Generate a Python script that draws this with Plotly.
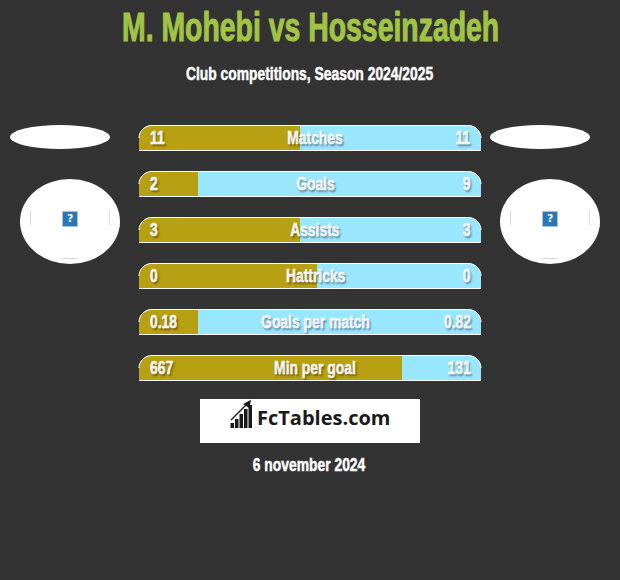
import plotly.graph_objects as go

categories = ["Matches", "Goals", "Assists", "Hattricks", "Goals per match", "Min per goal"]
left_labels = ["11", "2", "3", "0", "0.18", "667"]
right_labels = ["11", "9", "3", "0", "0.82", "131"]
left_share = [47, 17.3, 47, 52, 17.3, 76.8]
right_share = [53, 82.7, 53, 48, 82.7, 23.2]

BG, GOLD, BLUE, GREEN = "#333333", "#b8a013", "#99e6ff", "#a2c446"
SANS = "Liberation Sans, sans-serif"
W, H = 620, 580
L, R, T, B = 139, 481, 115, 391


def px(x):
    return (x - L) / (R - L)


def py(y):
    return (B - y) / (B - T)


def P(x, y):
    return f"{px(x):.5f} {py(y):.5f}"


fig = go.Figure()
fig.add_bar(y=categories, x=left_share, orientation="h", marker=dict(color=GOLD, line_width=0), hoverinfo="skip")
fig.add_bar(y=categories, x=right_share, orientation="h", marker=dict(color=BLUE, line_width=0), hoverinfo="skip")

shapes, notes = [], []


def rect(x0, y0, x1, y1, color, line=None, w=0):
    shapes.append(dict(type="rect", xref="paper", yref="paper", x0=px(x0), x1=px(x1), y0=py(y0), y1=py(y1),
                       fillcolor=color, line=dict(color=line or color, width=w), layer="above"))


def ell(x0, y0, x1, y1):
    shapes.append(dict(type="circle", xref="paper", yref="paper", x0=px(x0), x1=px(x1), y0=py(y0), y1=py(y1),
                       fillcolor="white", line=dict(width=0), layer="above"))


def path(d, fill=None, line=None, w=0):
    s = dict(type="path", xref="paper", yref="paper", path=d, layer="above", line=dict(color=line or "rgba(0,0,0,0)", width=w))
    if fill:
        s["fillcolor"] = fill
    shapes.append(s)


def text(x, y, t, size, color="white", anchor="center", font=SANS, weight="bold", shadow=None):
    f = dict(family=font, size=size, color=color, weight=weight)
    if shadow:
        f["shadow"] = shadow
    notes.append(dict(xref="paper", yref="paper", x=px(x), y=py(y), text=t, showarrow=False, xanchor=anchor,
                      align=anchor, yanchor="middle", font=f))


SHADOW = "2px 2px 2px rgba(0,0,0,0.3)"
r, k = 13, 7
for i, c in enumerate(categories):
    top, bot = 125 + 46 * i, 150.5 + 46 * i
    l, rr = 139, 481
    path(f"M {P(l-1,top-1)} L {P(l+r,top-1)} L {P(l+r,top)} C {P(l+r-k,top)} {P(l,top+r-k)} {P(l,top+r)} L {P(l-1,top+r)} Z", fill=BG)
    path(f"M {P(rr+1,top-1)} L {P(rr-r,top-1)} L {P(rr-r,top)} C {P(rr-r+k,top)} {P(rr,top+r-k)} {P(rr,top+r)} L {P(rr+1,top+r)} Z", fill=BG)
    path(f"M {P(l,top+r)} C {P(l,top+r-k)} {P(l+r-k,top+.5)} {P(l+r,top+.5)} L {P(rr-r,top+.5)} C {P(rr-r+k,top+.5)} {P(rr,top+r-k)} {P(rr,top+r)}", line="white", w=1)
    path(f"M {P(l,bot)} L {P(rr,bot)}", line="white", w=1)
    cy = 137.7 + 46 * i
    text(148, cy, left_labels[i], 19, anchor="left", shadow=SHADOW)
    text(473, cy, right_labels[i], 19, anchor="right", shadow=SHADOW)
    text(315, cy, c, 19, shadow=SHADOW)

# player placeholders
for cx in (60, 540):
    ell(cx - 50, 125, cx + 50, 149)
    bx = cx + 10
    ell(bx - 50, 179, bx + 50, 264)
    path(f"M {P(bx-39.5,210)} L {P(bx-39.5,225)}", line="#dcdcdc", w=1)
    path(f"M {P(bx+39.5,210)} L {P(bx+39.5,225)}", line="#dcdcdc", w=1)
    path(f"M {P(bx-8,258.5)} L {P(bx+8,258.5)}", line="#dcdcdc", w=1)
    rect(bx - 7.5, 211.5, bx + 7.5, 226.5, "#2b78b8", "#a9bfd6", 1)
    text(bx, 218.5, "?", 11, font="DejaVu Sans")

# logo
rect(200, 399, 420, 443, "white")
for x0, x1, y0 in ((230.5, 234, 423), (235, 238.5, 419), (239.5, 243, 414), (244, 247.5, 409), (248.5, 252, 405)):
    rect(x0, y0, x1, 428, "#1a1a1a")
path(f"M {P(231,420)} L {P(247,404)} M {P(244.5,404)} L {P(250,401)} L {P(249,407)} Z", fill="#1a1a1a", line="#1a1a1a", w=1.4)
text(323, 417.5, "FcTables.com", 20, color="#1a1a1a", font="Open Sans, DejaVu Sans, sans-serif")

text(310, 26.5, "M. Mohebi vs Hosseinzadeh", 40, color=GREEN)
text(309.5, 73.5, "Club competitions, Season 2024/2025", 18)
text(309, 464.5, "6 november 2024", 18)

fig.update_layout(
    width=W, height=H, barmode="stack", bargap=20.5 / 46, showlegend=False,
    paper_bgcolor=BG, plot_bgcolor=BG, margin=dict(l=L, r=W - R, t=T, b=H - B, pad=0),
    xaxis=dict(range=[0, 100], visible=False, fixedrange=True),
    yaxis=dict(autorange="reversed", visible=False, fixedrange=True),
    shapes=shapes, annotations=notes,
)

# No condensed face is installed, so the sans text is narrowed in the browser.
NARROW_JS = """
document.body.style.margin='0';
document.querySelectorAll('.annotation-text').forEach(function(t){
  if(t.style.fontFamily.indexOf('Liberation')<0) return;
  var s=parseFloat(t.style.fontSize);
  var f=s>=40?0.71:(s>=19?0.73:0.77);
  t.setAttribute('textLength',(t.getComputedTextLength()*f).toFixed(2));
  t.setAttribute('lengthAdjust','spacingAndGlyphs');
  t.style.stroke=t.style.fill;
  t.style.strokeWidth=s>=40?'1px':'0.5px';
});
"""
fig.write_html("out.html", config=dict(displayModeBar=False), post_script=NARROW_JS)
